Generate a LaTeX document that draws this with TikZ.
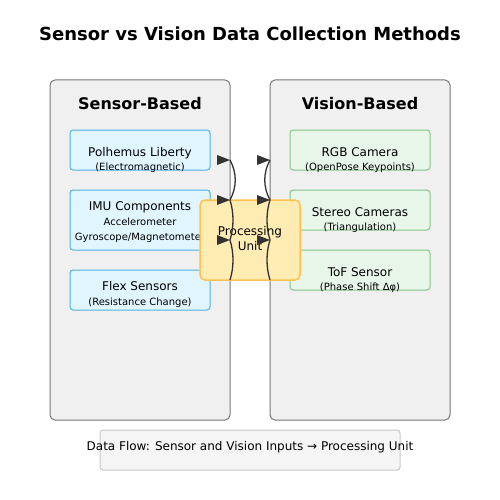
\documentclass[tikz,border=0pt]{standalone}
\usepackage{fontspec}
\setmainfont{DejaVu Sans}
\definecolor{panelFill}{HTML}{F0F0F0}
\definecolor{panelLine}{HTML}{777777}
\definecolor{sensorFill}{HTML}{E1F5FE}
\definecolor{sensorLine}{HTML}{4FB0E3}
\definecolor{visionFill}{HTML}{E8F5E9}
\definecolor{visionLine}{HTML}{81C784}
\definecolor{procFill}{HTML}{FFECB3}
\definecolor{procLine}{HTML}{FFC24F}
\definecolor{noteFill}{HTML}{F5F5F5}
\definecolor{noteLine}{HTML}{C8C8C8}
\definecolor{flowLine}{HTML}{333333}
\begin{document}
\begin{tikzpicture}[x=1pt,y=-1pt,
        panel/.style={draw=panelLine,fill=panelFill,rounded corners=5pt,line width=1pt,inner sep=0pt,minimum width=180pt,minimum height=340pt},
        sensor/.style={draw=sensorLine,fill=sensorFill,rounded corners=3pt,line width=1pt,inner sep=0pt,minimum width=140pt},
        vision/.style={draw=visionLine,fill=visionFill,rounded corners=3pt,line width=1pt,inner sep=0pt,minimum width=140pt,minimum height=40pt},
        title/.style={font=\bfseries\fontsize{16}{19}\selectfont,anchor=base,inner sep=0pt},
        big/.style={font=\fontsize{12}{14}\selectfont,anchor=base,inner sep=0pt},
        small/.style={font=\fontsize{10}{12}\selectfont,anchor=base,inner sep=0pt},
        flow/.style={draw=flowLine,line width=1.3pt}]
    \useasboundingbox (0,0) rectangle (500,500);
    \node[title,font=\bfseries\fontsize{18}{21}\selectfont] at (250,41)(head){Sensor vs Vision Data Collection Methods};
    \node[panel] at (140,250)(sensorPanel){};
    \node[panel] at (360,250)(visionPanel){};
    \node[title] at (140,110)(sensorHead){Sensor-Based};
    \node[title] at (360,110)(visionHead){Vision-Based};
    %sensor side
    \node[sensor,minimum height=40pt] at (140,150)(polhemus){};
    \node[sensor,minimum height=60pt] at (140,220)(imu){};
    \node[sensor,minimum height=40pt] at (140,290)(flex){};
    \node[big] at (140,156)(polhemusA){Polhemus Liberty};
    \node[small] at (140,170)(polhemusB){(Electromagnetic)};
    \node[big] at (140,210)(imuA){IMU Components};
    \node[small] at (140,225)(imuB){Accelerometer};
    \node[small] at (140,240)(imuC){Gyroscope/Magnetometer};
    \node[big] at (140,290)(flexA){Flex Sensors};
    \node[small] at (140,305)(flexB){(Resistance Change)};
    %vision side
    \foreach \y/\name/\main/\sub in {150/rgb/RGB Camera/(OpenPose Keypoints),210/stereo/Stereo Cameras/(Triangulation),270/tof/ToF Sensor/(Phase Shift Δφ)}{
        \node[vision] at (360,\y)(\name){};
        \node[big] at (360,\y+6)(\name A){\main};
        \node[small] at (360,\y+20)(\name B){\sub};
    }
    %processing
    \node[draw=procLine,fill=procFill,rounded corners=5pt,line width=1.5pt,minimum width=100pt,minimum height=80pt] at (250,240)(proc){};
    \node[big] at (250,235)(procA){Processing};
    \node[big] at (250,250)(procB){Unit};
    \foreach \y [count=\i] in {160,200,240,280}{
        \coordinate (inL\i) at (230,\y);
        \coordinate (inR\i) at (270,\y);
    }
    \path[flow] (inL1) .. controls (237,173) and (237,187) .. (inL2) .. controls (234,213) and (234,227) .. (inL3) .. controls (234,253) and (234,267) .. (inL4);
    \path[flow] (inR1) .. controls (263,173) and (263,187) .. (inR2) .. controls (266,213) and (266,227) .. (inR3) .. controls (266,253) and (266,267) .. (inR4);
    \foreach \i in {1,2,3}{
        \fill[flowLine] (inL\i) -- ++(-13,-5) -- ++(0,10) -- cycle;
        \fill[flowLine] (inR\i) -- ++(-13,-5) -- ++(0,10) -- cycle;
    }
    %bottom note
    \node[draw=noteLine,fill=noteFill,rounded corners=3pt,line width=1pt,minimum width=300pt,minimum height=40pt] at (250,450)(note){};
    \node[big] at (250,450)(noteText){Data Flow: Sensor and Vision Inputs → Processing Unit};
\end{tikzpicture}
\end{document}
